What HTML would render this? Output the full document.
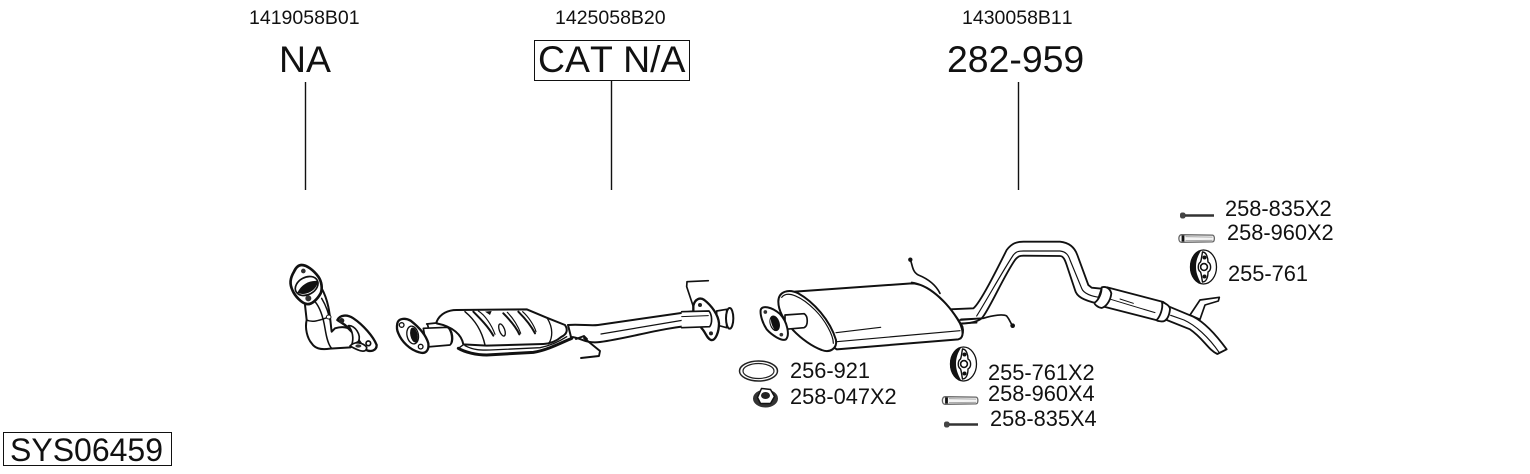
<!DOCTYPE html>
<html><head><meta charset="utf-8"><style>
html,body{margin:0;padding:0;background:#fff}
svg{display:block}
text{font-family:"Liberation Sans",sans-serif;fill:#111;font-kerning:none}
.s{font-size:19.5px}.m{font-size:21.8px}.b{font-size:37.4px}
.l{fill:none;stroke:#111;stroke-linecap:round;stroke-linejoin:round}
.w{fill:#fff;stroke:#111;stroke-linecap:round;stroke-linejoin:round}
</style></head><body>
<svg width="1530" height="474" viewBox="0 0 1530 474" xmlns="http://www.w3.org/2000/svg">
<defs>
<g id="hanger">
<ellipse cx="0" cy="0" rx="13" ry="17" fill="#fff" stroke="#111" stroke-width="1.3"/>
<path d="M-2-17C-10-16-13.500-7-13.500 0C-13.500 7-10 15-2 17C-6 10-7.500 5-7.500 0C-7.500-6-6-11-2-17Z" fill="#111"/>
<path d="M-1-15C3-15 4.500-9 4.500-5C8-3 8 3 4.500 5C4.500 10 3 15-1 15C-2 10-2 7-3 5C-6 3-6-3-3-5C-2-7-2-10-1-15Z" fill="#fff" stroke="#111" stroke-width="1.4"/>
<circle cx="1" cy="-9.500" r="2" fill="#111"/><circle cx="1" cy="9.500" r="2" fill="#111"/>
<circle cx="0.500" cy="0" r="3.400" fill="#fff" stroke="#111" stroke-width="1.6"/>
</g>
<g id="pin">
<path d="M2-3.800L33-3.400C35.500-3 35.500 3 33 3.400L2 3.800C-1.500 3.800-1.500-3.800 2-3.800Z" fill="#f4f4f4" stroke="#666" stroke-width="1.300"/>
<path d="M3.500-3L3.500 3" stroke="#111" stroke-width="2.800"/>
<path d="M6-1.800L33-1.400M6 2L33 1.800" stroke="#999" stroke-width=".8"/>
</g>
<g id="bolt">
<rect x="-4" y="-3" width="5.500" height="6" rx="2.200" fill="#444"/>
<path d="M1 0L30 0" stroke="#333" stroke-width="2.400"/>
</g>
</defs>

<text class="s" x="249" y="24">1419058B01</text>
<text class="s" x="555" y="24">1425058B20</text>
<text class="s" x="962" y="24">1430058B11</text>
<text class="b" x="279" y="72">NA</text>
<rect x="534.5" y="40.5" width="155" height="40" fill="none" stroke="#111" stroke-width="1"/>
<text class="b" x="538" y="72">CAT N/A</text>
<text class="b" x="947" y="72">282-959</text>
<path d="M305.500 82V190M611.500 81V190M1018.500 82V190" stroke="#111" stroke-width="1.400" fill="none"/>

<rect x="3.500" y="432.500" width="168" height="33" fill="none" stroke="#111" stroke-width="1"/>
<text x="10" y="461" style="font-size:32px">SYS06459</text>

<text class="m" x="790" y="378">256-921</text>
<text class="m" x="790" y="404">258-047X2</text>
<text class="m" x="988" y="380">255-761X2</text>
<text class="m" x="988" y="401">258-960X4</text>
<text class="m" x="990" y="426">258-835X4</text>
<text class="m" x="1225" y="216">258-835X2</text>
<text class="m" x="1227" y="240">258-960X2</text>
<text class="m" x="1228" y="281">255-761</text>

<!-- Part 1: downpipe -->
<g transform="translate(280,260) scale(.33333)">
<path class="w" stroke-width="6" d="M75 135L80 180C74 205 82 235 95 250C105 265 120 270 150 266L212 262L235 240C225 215 205 192 165 205L155 215C150 180 150 130 125 85Z"/>
<path class="l" stroke-width="4.500" d="M105 125C122 145 130 175 135 205C140 235 145 255 155 265M80 180C100 190 125 178 150 170M125 115C140 140 145 160 150 180"/>
<ellipse cx="146" cy="171" rx="7" ry="6" class="w" stroke-width="3"/>
<path class="w" stroke-width="7" d="M172 180C180 165 200 162 220 175C250 195 280 230 290 255C290 272 272 278 255 268L225 225L195 195Z"/>
<circle cx="185" cy="182" r="8" fill="#222"/>
<circle cx="265" cy="250" r="7" fill="#fff" stroke="#111" stroke-width="5"/>
<path class="w" stroke-width="5" d="M205 197C225 195 245 225 235 245L215 255C222 235 218 212 205 197Z"/>
<path class="w" stroke-width="5" d="M210 258C225 242 250 248 260 262C260 280 240 275 210 258Z"/>
<ellipse cx="235" cy="258" rx="9" ry="5" fill="#333"/>
<path class="w" stroke-width="8" d="M65 15C80 15 100 30 115 50C125 65 128 85 122 100C112 118 95 135 80 132C65 130 45 108 38 92C28 72 30 55 42 35C48 22 56 15 65 15Z"/>
<ellipse cx="80" cy="78" rx="36" ry="26" transform="rotate(-28 80 78)" fill="#fff" stroke="#111" stroke-width="5"/>
<path d="M52 98C65 72 90 60 113 63C115 85 80 112 52 98Z" fill="#111"/>
<circle cx="70" cy="33" r="7" fill="#333"/><circle cx="85" cy="115" r="9" fill="#333"/>
</g>

<!-- Part 2: catalyst -->
<g transform="translate(390,295) scale(.33333)">
<path class="l" stroke-width="5" d="M110 87L138 84M112 87L115 97"/>
<path class="w" stroke-width="6" d="M140 80C150 55 175 45 200 45L410 43L470 68L525 90C535 105 530 118 515 125C500 138 480 146 460 147L290 152L220 148C215 120 190 95 140 85Z"/>
<path class="l" stroke-width="9" d="M205 160C225 172 260 180 290 180L430 172C470 166 510 145 545 130"/>
<path class="l" stroke-width="4" d="M222 148L205 160M225 152C250 165 270 166 300 165L450 158C480 152 510 138 530 125"/>
<path class="l" stroke-width="4.500" d="M225 50C255 75 275 105 285 150"/>
<path class="l" stroke-width="6" d="M250 50C270 70 295 95 310 122"/>
<path class="l" stroke-width="3.500" d="M265 48C285 60 305 90 315 118"/>
<path class="l" stroke-width="6" d="M340 55C360 75 380 100 388 118"/>
<path class="l" stroke-width="3.500" d="M352 52C370 70 385 95 392 115"/>
<path class="l" stroke-width="6" d="M385 50C405 70 425 95 435 115"/>
<path class="l" stroke-width="3.500" d="M398 50C415 65 432 90 438 110"/>
<ellipse cx="336" cy="105" rx="8" ry="19" transform="rotate(-20 336 105)" fill="#fff" stroke="#111" stroke-width="4"/>
<path class="l" stroke-width="4" d="M472 70C490 100 488 128 476 146"/>
<path d="M285 50L305 48L300 60Z" fill="#111"/>
<path class="w" stroke-width="5" d="M100 100L172 97C190 105 192 140 180 150L110 156Z"/>
<path class="l" stroke-width="3" d="M172 97C185 110 188 135 180 150"/>
<path class="w" stroke-width="7" d="M22 85C25 70 45 68 62 77C85 95 108 120 115 145C118 168 105 178 88 172C60 165 35 140 25 115C20 105 20 95 22 85Z"/>
<circle cx="35" cy="90" r="7" fill="#fff" stroke="#111" stroke-width="4"/>
<circle cx="92" cy="155" r="7" fill="#fff" stroke="#111" stroke-width="4"/>
<ellipse cx="68" cy="120" rx="17" ry="27" transform="rotate(-12 68 120)" fill="#fff" stroke="#111" stroke-width="4"/>
<ellipse cx="72" cy="120" rx="11" ry="23" transform="rotate(-12 72 120)" fill="#111"/>
</g>

<!-- Pipe after catalyst -->
<g>
<path class="w" stroke-width="2" d="M568 325C580 324 590 326 598 325L695 311L696 325C660 328 630 338 600 342C585 344 580 337 571 337Z"/>
<path class="l" stroke-width="1.200" d="M601 334L690 319"/>
<path class="l" stroke-width="1.900" d="M576 339L584 336L587 339M584 338L600 351L599 356L581 358"/>
</g>
<g transform="translate(685,275) scale(.33333)">
<path class="l" stroke-width="5" d="M70 17L6 20L5 35L25 95"/>
<path class="w" stroke-width="5" d="M95 108L125 103L125 158L95 150Z"/>
<ellipse cx="134" cy="130" rx="11" ry="31" fill="#fff" stroke="#111" stroke-width="6"/>
<path class="w" stroke-width="7" d="M25 92C30 72 45 66 58 75C80 92 100 120 102 145C102 170 92 198 78 195C65 190 62 172 50 160L25 110Z"/>
<circle cx="45" cy="90" r="6" fill="#222"/><circle cx="78" cy="175" r="6" fill="#222"/>
<path class="w" stroke-width="5" d="M-10 110L72 108C82 120 82 145 74 155L-10 158" />
<path class="l" stroke-width="3" d="M-10 125L70 122"/>
</g>

<!-- Mid pipe -->
<g transform="translate(960,190) scale(.33333)">
<path class="w" stroke-width="5.500" d="M-30 358L40 355C60 340 110 240 140 180C155 160 170 155 190 155L300 155C330 158 345 175 352 195L385 285L395 293L425 296L410 340C370 330 350 320 345 300L320 225C315 210 310 198 300 198L190 197C180 197 175 198 165 210C130 260 85 365 65 385C50 398 20 402 -30 402Z"/>
<path class="l" stroke-width="3.500" d="M50 378C80 330 130 240 160 195C168 185 175 183 190 183L300 183C318 185 325 195 330 210L365 295C370 310 395 320 420 322"/>
<path class="w" stroke-width="5.500" d="M442 292L610 336L625 350L615 392L595 392L412 345Z"/>
<path class="l" stroke-width="3" d="M452 328L585 368M480 327L520 340"/>
<path class="w" stroke-width="5.500" d="M425 292C438 288 450 295 454 310C452 330 440 350 425 354C412 352 402 342 404 338C416 330 425 310 425 292Z"/>
<path class="w" stroke-width="5" d="M690 375L720 330L778 322L775 333L735 345L720 388Z"/>
<path class="w" stroke-width="5.500" d="M628 350L700 380C730 395 765 430 800 478L772 492C745 480 730 445 690 418L620 390Z"/>
<path class="l" stroke-width="3.500" d="M632 376L672 390C705 405 745 440 778 488"/>
<path class="w" stroke-width="5.500" d="M606 336C618 340 630 348 630 358C628 375 622 390 610 394C598 395 590 392 590 390C600 380 610 355 606 336Z"/>
</g>

<!-- Muffler -->
<g transform="translate(730,240) scale(.33333)">
<path class="l" stroke-width="5" d="M541 60C548 75 546 95 565 105C590 115 615 130 630 160"/>
<circle cx="541" cy="59" r="6.500" fill="#111"/>
<path class="l" stroke-width="5" d="M690 240L760 235C790 225 820 222 830 228C840 240 842 250 848 258"/>
<circle cx="848" cy="257" r="7" fill="#111"/>
<path class="w" stroke-width="6" d="M195 155L545 130C590 130 650 180 690 250C705 285 695 295 685 298L320 328L250 280Z"/>
<path class="l" stroke-width="4.500" d="M545 127C590 132 655 185 698 260C702 275 700 285 692 296"/>
<path class="l" stroke-width="3.500" d="M318 278L452 262M320 305L690 272"/>
<path class="l" stroke-width="5" d="M693 238L755 235M695 250L740 248"/>
<path class="w" stroke-width="6" d="M145 185C145 155 175 145 205 160C250 185 300 240 318 300C322 325 300 340 275 330C220 310 145 240 145 185Z"/>
<path class="l" stroke-width="3.500" d="M155 172C172 150 215 170 255 210C285 240 310 285 310 310"/>
<path class="w" stroke-width="5" d="M165 225L222 221C235 228 235 258 222 263L165 268Z"/>
<path class="w" stroke-width="6" d="M92 210C96 195 125 200 150 222C172 245 180 285 168 298C155 305 125 285 110 268C98 250 90 225 92 210Z"/>
<circle cx="106" cy="216" r="5.500" fill="#333"/><circle cx="154" cy="284" r="5.500" fill="#333"/>
<ellipse cx="134" cy="250" rx="14" ry="23" transform="rotate(-16 134 250)" fill="#111" stroke="#111" stroke-width="2"/>
<path d="M123 236C118 246 124 262 133 268C126 258 122 246 123 236Z" fill="#fff"/>
</g>

<!-- Small parts -->
<ellipse cx="758.500" cy="371" rx="19" ry="10" fill="none" stroke="#222" stroke-width="1.500"/>
<ellipse cx="758.500" cy="371" rx="15.500" ry="7.500" fill="none" stroke="#222" stroke-width="1.200"/>
<g transform="translate(765.500,397.500)">
<ellipse cx="0" cy="1" rx="12.500" ry="9" fill="#333"/>
<path d="M-8 0L-4-9L5-8L9-1L5 6L-5 6Z" fill="#fff" stroke="#111" stroke-width="1.500"/>
<ellipse cx="0" cy="-2" rx="4.500" ry="3.500" fill="#222"/>
</g>
<use href="#hanger" x="963.500" y="364"/>
<use href="#pin" x="943" y="400.500"/>
<use href="#bolt" x="948" y="424.500"/>
<use href="#bolt" x="1184" y="215.500"/>
<use href="#pin" x="1179.500" y="238.500"/>
<use href="#hanger" x="1203.500" y="267"/>
</svg>
</body></html>
